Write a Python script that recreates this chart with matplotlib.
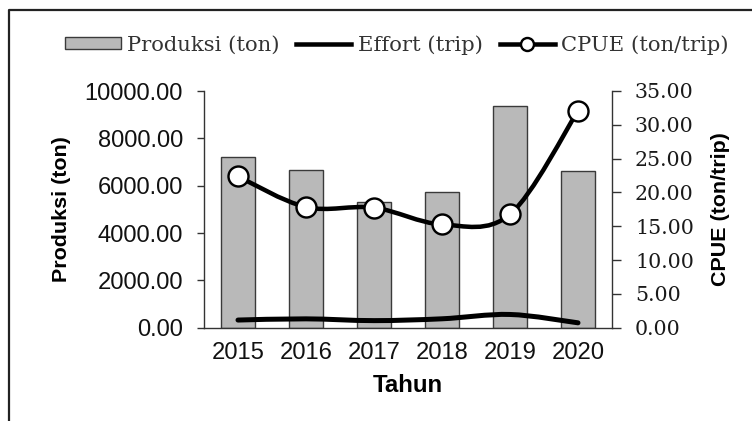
import numpy as np
import matplotlib
matplotlib.use("Agg")
import matplotlib.pyplot as plt
from matplotlib.path import Path
from matplotlib.patches import PathPatch, Patch
from matplotlib.lines import Line2D

years = ["2015", "2016", "2017", "2018", "2019", "2020"]
produksi = [7228, 6678, 5300, 5748, 9370, 6623]
effort = [323, 374, 299, 376, 559, 206]
cpue = [22.36, 17.84, 17.75, 15.27, 16.76, 32.07]

left_ticks = [0, 2000, 4000, 6000, 8000, 10000]
right_ticks = [0, 5, 10, 15, 20, 25, 30, 35]

DPI = 100
PX = 72.0 / DPI  # points per pixel


def smooth_path(xs, ys):
    """Excel-style smoothed line as cubic Bezier path through the points."""
    xs = np.asarray(xs, float)
    ys = np.asarray(ys, float)
    n = len(xs)
    verts = [(xs[0], ys[0])]
    codes = [Path.MOVETO]
    for i in range(n - 1):
        i0 = max(i - 1, 0)
        i3 = min(i + 2, n - 1)
        c1 = (xs[i] + (xs[i + 1] - xs[i0]) / 6.0, ys[i] + (ys[i + 1] - ys[i0]) / 6.0)
        c2 = (xs[i + 1] - (xs[i3] - xs[i]) / 6.0, ys[i + 1] - (ys[i3] - ys[i]) / 6.0)
        verts += [c1, c2, (xs[i + 1], ys[i + 1])]
        codes += [Path.CURVE4] * 3
    return Path(verts, codes)


fig = plt.figure(figsize=(7.52, 4.21), dpi=DPI)
ax = fig.add_axes([204 / 752, (421 - 327.7) / 421, 408 / 752, (327.7 - 91) / 421])
ax2 = ax.twinx()
ax.set_zorder(ax2.get_zorder() + 1)
ax.patch.set_visible(False)

x = np.arange(len(years))
ax.bar(x, produksi, width=0.5, color="#b9b9b9", edgecolor="#3a3a3a", linewidth=1.0, zorder=1)

# effort line (left axis)
ax.add_patch(PathPatch(smooth_path(x, effort), facecolor="none", edgecolor="black",
                       linewidth=5.0 * PX, capstyle="round", zorder=3))
# cpue line (right axis scale)
ax.add_patch(PathPatch(smooth_path(x, cpue), facecolor="none", edgecolor="black",
                       linewidth=4.5 * PX, capstyle="round", zorder=4, transform=ax2.transData))
ax.plot(x, cpue, linestyle="none", marker="o", markersize=20 * PX,
        markerfacecolor="white", markeredgecolor="black", markeredgewidth=2.4 * PX,
        zorder=5, transform=ax2.transData)

ax.set_xlim(-0.5, len(years) - 0.5)
ax.set_ylim(0, 10000)
ax2.set_ylim(0, 35)
ax.set_yticks(left_ticks)
ax.set_yticklabels([f"{v:.2f}" for v in left_ticks])
ax2.set_yticks(right_ticks)
ax2.set_yticklabels([f"{v:.2f}" for v in right_ticks])
ax.set_xticks(x)
ax.set_xticklabels(years)

sans = "Liberation Sans"
serif = "DejaVu Serif"
for lab in ax.get_yticklabels() + ax.get_xticklabels():
    lab.set_fontfamily(sans)
    lab.set_fontsize(23.8 * PX)
    lab.set_color("#111111")
for lab in ax2.get_yticklabels():
    lab.set_fontfamily(serif)
    lab.set_fontsize(20.5 * PX)
    lab.set_color("#1a1a1a")

ax.tick_params(axis="y", direction="out", length=7 * PX, width=1.0, pad=14 * PX, color="#333333")
ax.tick_params(axis="x", length=0, pad=10)
ax2.tick_params(axis="y", direction="out", length=9 * PX, width=1.0, pad=14 * PX, color="#333333")

for a in (ax, ax2):
    a.spines["top"].set_visible(False)
    for s in ("left", "right", "bottom"):
        a.spines[s].set_color("#333333")
        a.spines[s].set_linewidth(1.0)
ax.spines["right"].set_visible(False)
ax2.spines["left"].set_visible(False)
ax2.spines["bottom"].set_visible(False)

ax.set_ylabel("Produksi (ton)", fontfamily=sans, fontweight="bold", fontsize=21.5 * PX)
ax2.set_ylabel("CPUE (ton/trip)", fontfamily=sans, fontweight="bold", fontsize=21.5 * PX)
ax.set_xlabel("Tahun", fontfamily=sans, fontweight="bold", fontsize=24 * PX)

# place axis labels at pixel positions
ax.yaxis.set_label_coords(62 / 752, (421 - 209) / 421, transform=fig.transFigure)
ax2.yaxis.set_label_coords(720 / 752, (421 - 209) / 421, transform=fig.transFigure)
ax.xaxis.set_label_coords(408 / 752, (421 - 386) / 421, transform=fig.transFigure)
ax.yaxis.label.set_va("center")
ax2.yaxis.label.set_va("center")
ax.xaxis.label.set_va("center")

# legend
handles = [
    Patch(facecolor="#b9b9b9", edgecolor="#3a3a3a", linewidth=1.0),
    Line2D([], [], color="black", linewidth=4.5 * PX),
    Line2D([], [], color="black", linewidth=4.5 * PX, marker="o", markersize=13 * PX,
           markerfacecolor="white", markeredgecolor="black", markeredgewidth=2.4 * PX),
]
labels = ["Produksi (ton)", "Effort (trip)", "CPUE (ton/trip)"]
leg = fig.legend(handles, labels, loc="center", bbox_to_anchor=(397 / 752, (421 - 45) / 421),
                 ncol=3, frameon=False, prop={"family": serif, "size": 21.2 * PX},
                 handlelength=2.6, handleheight=0.5, handletextpad=0.3, columnspacing=0.8,
                 borderaxespad=0, borderpad=0)
for t in leg.get_texts():
    t.set_color("#333333")

# outer frame (left and top edges visible)
fig.add_artist(Line2D([9 / 752, 9 / 752, 1.0], [0.0, (421 - 9.5) / 421, (421 - 9.5) / 421],
                      transform=fig.transFigure, color="#222222", linewidth=1.6))

fig.savefig("out.png", dpi=DPI)
